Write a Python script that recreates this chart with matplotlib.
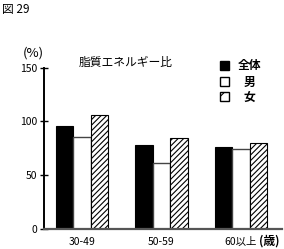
import matplotlib
matplotlib.use("Agg")
import matplotlib.pyplot as plt
from matplotlib.patches import Rectangle
import numpy as np

plt.rcParams['font.family'] = ['Noto Sans CJK JP', 'DejaVu Sans']
plt.rcParams['hatch.linewidth'] = 0.8

categories = ["30-49", "50-59", "60以上"]
series_names = ["全体", "男", "女"]
total = [96, 78, 76]
male = [86, 61, 74]
female = [106, 85, 80]
yticks = [0, 50, 100, 150]

W, H = 284, 249
fig = plt.figure(figsize=(W / 100, H / 100), dpi=100)
ax = fig.add_axes([44 / W, 1 - 229 / H, (282 - 44) / W, (229 - 67.7) / H])

x = np.arange(len(categories))
w = 0.22
ax.bar(x - w, total, w, color='black', edgecolor='black', linewidth=0.8)
ax.bar(x, male, w, color='white', edgecolor='#444444', linewidth=1.0)
ax.bar(x + w, female, w, color='white', edgecolor='black', linewidth=0.8, hatch='//////')

ax.set_xlim(-0.478, 2.516)
ax.set_ylim(0, 150)
ax.set_yticks(yticks)
ax.set_xticks(x)
ax.set_xticklabels(categories)
ax.tick_params(axis='x', length=0, pad=6, labelsize=7.5)
ax.tick_params(axis='y', direction='inout', length=6, width=1.0, pad=2, labelsize=7.5)
for s in ['top', 'right']:
    ax.spines[s].set_visible(False)
ax.spines['left'].set_linewidth(1.4)
ax.spines['bottom'].set_linewidth(1.6)
ax.spines['bottom'].set_color('#555555')

lbl = ax.get_xticklabels()[-1]
ax.annotate("(歳)", xy=(1.0, 0), xycoords=lbl, xytext=(1, 0), textcoords='offset points',
            ha='left', va='bottom', fontsize=8.5, weight='bold')
fig.text(126 / W, 1 - 62 / H, "脂質エネルギー比", fontsize=8.5, ha='center', va='center')
fig.text(33 / W, 1 - 53 / H, "(%)", fontsize=9.5, ha='center', va='center')
fig.text(2 / W, 1 - 9 / H, "図 29", fontsize=8.5, ha='left', va='center')

# legend
ys = [66, 82, 97]
styles = [dict(facecolor='black', edgecolor='black'),
          dict(facecolor='white', edgecolor='black'),
          dict(facecolor='white', edgecolor='black', hatch='//')]
for yy, name, st in zip(ys, series_names, styles):
    fig.patches.append(Rectangle((220 / W, 1 - (yy + 4.5) / H), 9 / W, 9 / H,
                                 transform=fig.transFigure, linewidth=1.0, **st))
    fig.text(249 / W, 1 - yy / H, name, fontsize=8.5, ha='center', va='center', weight='bold')

fig.savefig("out.png", dpi=100)
